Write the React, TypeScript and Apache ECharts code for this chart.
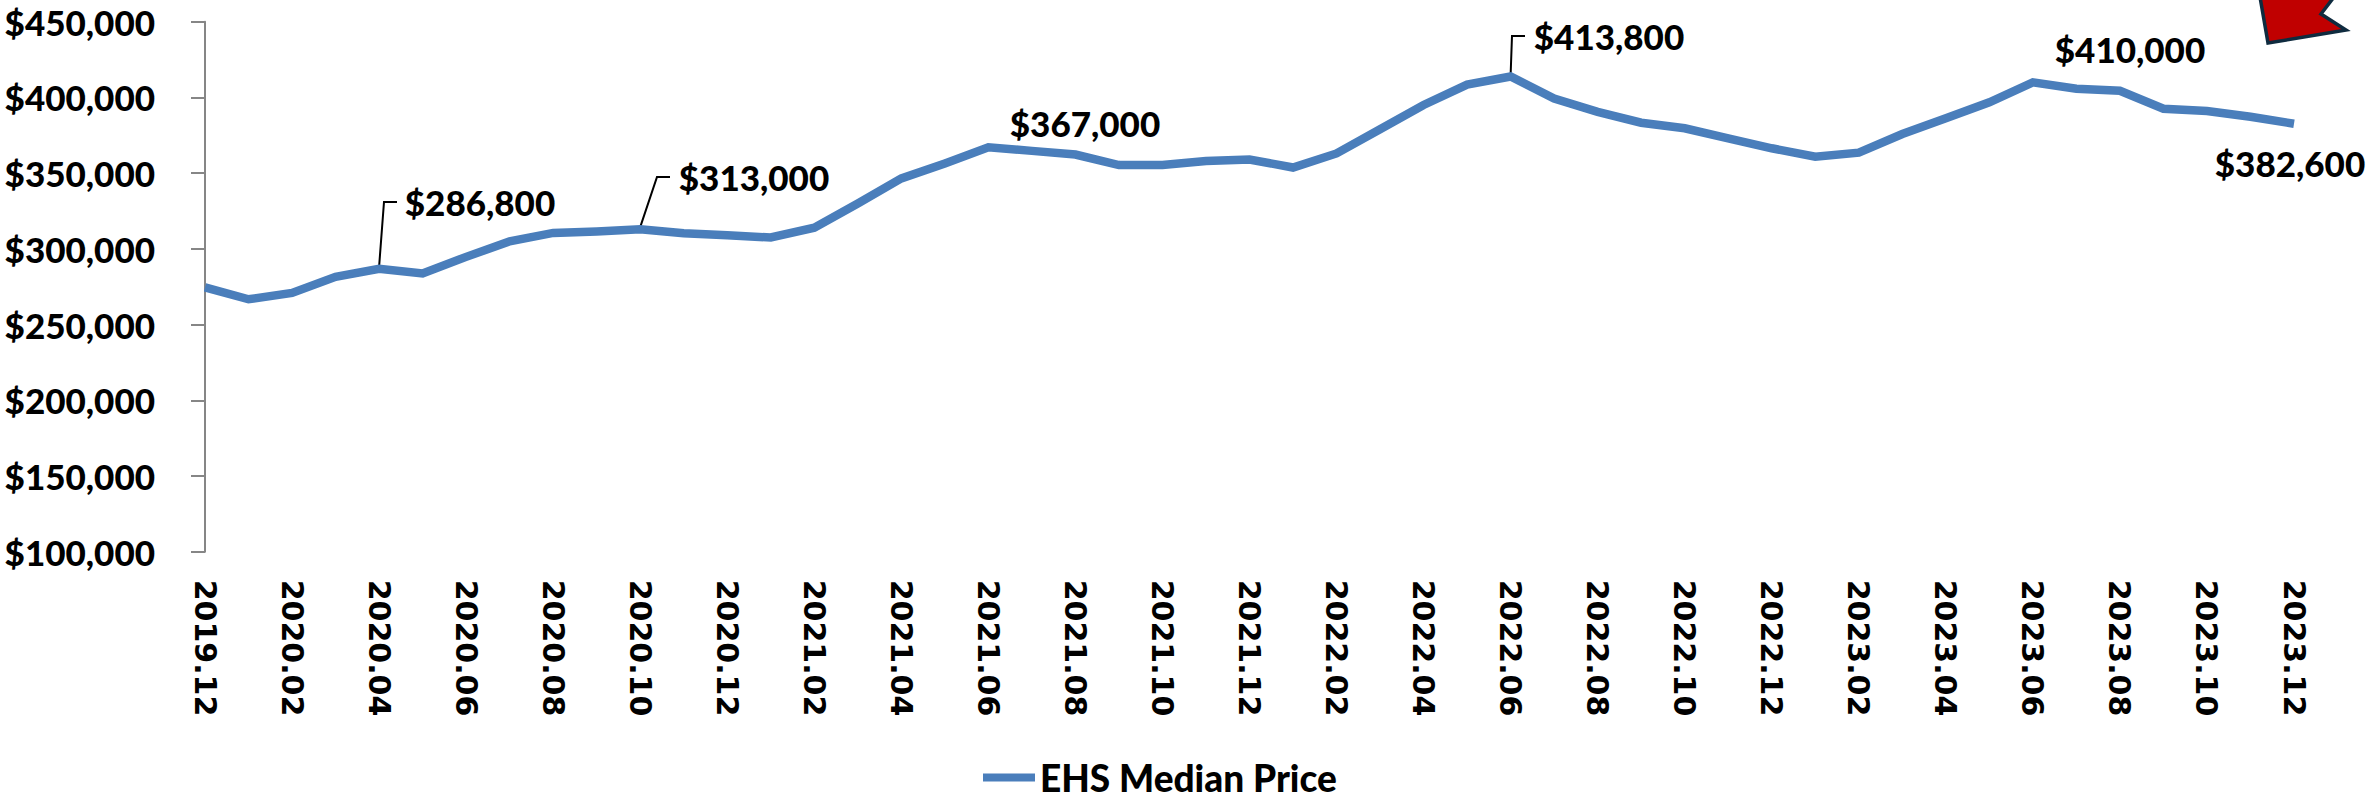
import React, { useEffect, useRef } from "react";
import * as echarts from "echarts";

const months = ["2019.12","2020.01","2020.02","2020.03","2020.04","2020.05","2020.06","2020.07","2020.08","2020.09","2020.10","2020.11","2020.12","2021.01","2021.02","2021.03","2021.04","2021.05","2021.06","2021.07","2021.08","2021.09","2021.10","2021.11","2021.12","2022.01","2022.02","2022.03","2022.04","2022.05","2022.06","2022.07","2022.08","2022.09","2022.10","2022.11","2022.12","2023.01","2023.02","2023.03","2023.04","2023.05","2023.06","2023.07","2023.08","2023.09","2023.10","2023.11","2023.12"];
const prices = [274500,266700,270900,281500,286800,283700,294700,305000,310500,311500,313000,310300,309000,307500,314000,330000,346500,356400,367000,364700,362300,355300,355300,358000,359000,353700,363000,379000,395000,408400,413800,399300,390500,383300,379600,373000,366400,360800,363500,375800,386200,396800,410000,405700,404400,392500,391000,387200,382600];
const calloutIndexes = [4, 10, 18, 30, 42, 48];
const labelCentres: Record<number, [number, number]> = {
  4: [480, 202], 10: [754, 177], 18: [1085, 123], 30: [1609, 36], 42: [2130, 49], 48: [2290, 163],
};
const leaderBends: Record<number, [number, number]> = {
  4: [384, 202], 10: [657, 177], 30: [1512, 36],
};

const FONT = "Lato, sans-serif";
const WEIGHT = 900;

export default function App() {
  const ref = useRef<HTMLDivElement>(null);
  useEffect(() => {
    document.body.style.margin = "0";
    const chart = echarts.init(ref.current!, undefined, { renderer: "svg" });
    chart.setOption({
      animation: false,
      backgroundColor: "#fff",
      grid: { left: 205, right: 77, top: 21.7, bottom: 247.3 },
      legend: {
        show: true,
        left: 978,
        top: 754,
        itemWidth: 52,
        itemHeight: 8,
        itemGap: 8,
        icon: "rect",
        textStyle: { fontFamily: FONT, fontWeight: WEIGHT, fontSize: 37, color: "#000", padding: [0, 0, 0, 0] },
        data: ["EHS Median Price"],
      },
      xAxis: {
        type: "category",
        data: months,
        boundaryGap: false,
        axisLine: { show: false },
        axisTick: { show: false },
        axisLabel: {
          interval: 1,
          rotate: -90,
          margin: 28,
          fontFamily: "'DejaVu Sans', sans-serif",
          fontWeight: "bold",
          fontSize: 30,
          color: "#000",
        },
      },
      yAxis: {
        type: "value",
        min: 100000,
        max: 450000,
        interval: 50000,
        splitLine: { show: false },
        axisLine: { show: true, lineStyle: { color: "#868686", width: 2 } },
        axisTick: { show: true, length: 14, lineStyle: { color: "#868686", width: 2 } },
        axisLabel: {
          margin: 50,
          fontFamily: FONT,
          fontWeight: WEIGHT,
          fontSize: 35,
          color: "#000",
          formatter: (v: number) => "$" + v.toLocaleString("en-US"),
        },
      },
      series: [
        {
          name: "EHS Median Price",
          type: "line",
          data: prices,
          showSymbol: false,
          symbol: "none",
          clip: false,
          lineStyle: { color: "#4A7EBB", width: 8.5, join: "miter", cap: "butt" },
          itemStyle: { color: "#4A7EBB" },
        },
      ],
    });
    const graphics: any[] = [];
    calloutIndexes.forEach((index) => {
      const [cx, cy] = labelCentres[index];
      graphics.push({
        type: "text",
        x: cx,
        y: cy,
        style: {
          text: "$" + prices[index].toLocaleString("en-US"),
          fontFamily: FONT,
          fontWeight: WEIGHT,
          fontSize: 35,
          fill: "#000",
          align: "center",
          verticalAlign: "middle",
        },
      });
      const bend = leaderBends[index];
      if (bend) {
        const p = chart.convertToPixel({ seriesIndex: 0 }, [index, prices[index]]) as number[];
        graphics.push({
          type: "polyline",
          shape: { points: [[p[0], p[1] - 2], bend, [bend[0] + 13, bend[1]]] },
          style: { stroke: "#000", lineWidth: 2, fill: "none" },
        });
      }
    });
    graphics.push({
      type: "polygon",
      shape: { points: [[2260, -3], [2268, 43], [2346, 30], [2321, 14], [2334, -3]] },
      style: { fill: "#C00000", stroke: "#0F2B3F", lineWidth: 3.5 },
    });
    chart.setOption({ graphic: graphics });
    return () => chart.dispose();
  }, []);
  return <div ref={ref} style={{ width: 2371, height: 799 }} />;
}
